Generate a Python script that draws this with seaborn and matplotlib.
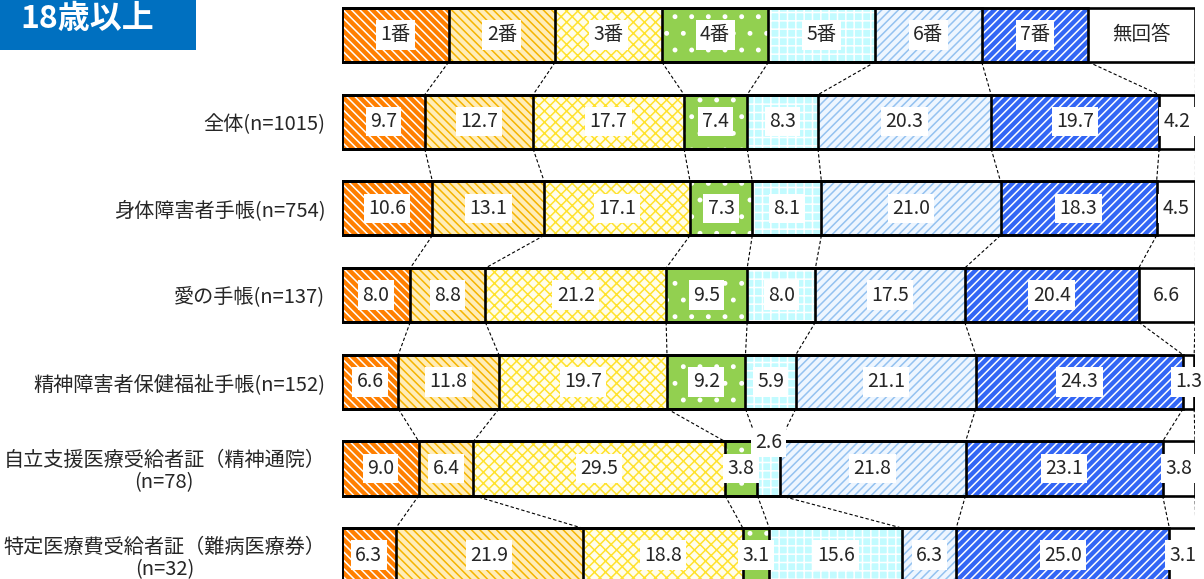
import numpy as np
import pandas as pd
import seaborn as sns
import matplotlib.pyplot as plt
from matplotlib.patches import Rectangle

# answer categories (legend bar at the top)
categories = ["1番", "2番", "3番", "4番", "5番", "6番", "7番", "無回答"]
legend_widths = [12.5, 12.5, 12.5, 12.5, 12.5, 12.5, 12.5, 12.5]

# row labels
rows = [
    "全体(n=1015)",
    "身体障害者手帳(n=754)",
    "愛の手帳(n=137)",
    "精神障害者保健福祉手帳(n=152)",
    "自立支援医療受給者証（精神通院）\n(n=78)",
    "特定医療費受給者証（難病医療券）\n(n=32)",
]

# percentages per row (1番 ... 7番, 無回答)
zentai = [9.7, 12.7, 17.7, 7.4, 8.3, 20.3, 19.7, 4.2]
shintai = [10.6, 13.1, 17.1, 7.3, 8.1, 21.0, 18.3, 4.5]
ai_techo = [8.0, 8.8, 21.2, 9.5, 8.0, 17.5, 20.4, 6.6]
seishin = [6.6, 11.8, 19.7, 9.2, 5.9, 21.1, 24.3, 1.3]
jiritsu = [9.0, 6.4, 29.5, 3.8, 2.6, 21.8, 23.1, 3.8]
tokutei = [6.3, 21.9, 18.8, 3.1, 15.6, 6.3, 25.0, 3.1]

all_rows = ["凡例"] + rows
all_vals = [legend_widths, zentai, shintai, ai_techo, seishin, jiritsu, tokutei]

# fill styles: face colour, hatch colour, hatch
faces = ["#FF7F00", "#FFEDB8", "#FFFDEB", "#92D050", "#C2FBFF", "#EEF6FF", "#3366F5", "white"]
hatch_cols = ["white", "#F5B400", "#FFE22E", "white", "white", "#94C2F0", "white", "white"]
hatches = ["\\\\\\\\", "\\\\\\\\", "xxx", ".", "++", "////", "////", ""]

plt.rcParams["hatch.linewidth"] = 1.1
sns.set_style("white")
plt.rcParams["font.family"] = ["Noto Sans CJK JP", "DejaVu Sans"]

# long table with cumulative ends
recs = []
for r, vals in zip(all_rows, all_vals):
    cum = np.cumsum(vals)
    for c, v, e in zip(categories, vals, cum):
        recs.append({"row": r, "category": c, "value": v, "end": e, "start": e - v})
df = pd.DataFrame(recs)

fig = plt.figure(figsize=(12.04, 5.79), dpi=100)
ax = fig.add_axes([342 / 1204, 0, 853 / 1204, 1])

bar_h = 0.623

# stacked bars: draw cumulative totals from the last category backwards
for k in reversed(range(len(categories))):
    sub = df[df["category"] == categories[k]]
    sns.barplot(data=sub, x="end", y="row", order=all_rows, orient="h",
                color=faces[k], saturation=1, width=bar_h, errorbar=None,
                edgecolor=hatch_cols[k], hatch=hatches[k], linewidth=0, ax=ax)

# black outlines for every segment
for k in range(len(categories)):
    sub = df[df["category"] == categories[k]]
    sns.barplot(data=sub, x="end", y="row", order=all_rows, orient="h",
                color="black", saturation=1, width=bar_h, errorbar=None,
                fill=False, linewidth=1.9, ax=ax)

# dashed connectors between consecutive bars
for i in range(len(all_rows) - 1):
    e1 = df[df["row"] == all_rows[i]]["end"].values
    e2 = df[df["row"] == all_rows[i + 1]]["end"].values
    for a, b in zip(e1, e2):
        ax.plot([a, b], [i + bar_h / 2, i + 1 - bar_h / 2], color="black",
                lw=0.8, ls=(0, (3, 2)), zorder=1)

# value labels in white boxes
box = dict(boxstyle="square,pad=0.22", facecolor="white", edgecolor="none")
for i, r in enumerate(all_rows):
    sub = df[df["row"] == r]
    for k, (s, v) in enumerate(zip(sub["start"], sub["value"])):
        txt = categories[k] if i == 0 else f"{v:.1f}"
        y = i
        if r == rows[4] and k == 4:
            y = i - 0.3
        ax.text(s + v / 2, y, txt, ha="center", va="center", fontsize=14,
                bbox=box, zorder=6, clip_on=False)

ax.set_xlim(0, 100)
ax.set_ylim(544 / 86.7, -35 / 86.7)
ax.set_xlabel("")
ax.set_ylabel("")
ax.set_xticks([])
ax.set_yticks(range(len(all_rows)))
ax.set_yticklabels([""] + rows, fontsize=14.5)
ax.tick_params(axis="y", length=0, pad=12)
for t in ax.get_yticklabels():
    t.set_multialignment("center")
    t.set_linespacing(1.1)
sns.despine(ax=ax, left=True, bottom=True)

# title box
fig.patches.append(Rectangle((0, 1 - 50 / 579), 196 / 1204, 50 / 579,
                             transform=fig.transFigure, facecolor="#0070C0",
                             edgecolor="none"))
fig.text(20 / 1204, 1 - 19 / 579, "18歳以上", color="white", fontsize=23,
         fontweight="bold", va="center", ha="left")

fig.savefig("out.png", dpi=100)
